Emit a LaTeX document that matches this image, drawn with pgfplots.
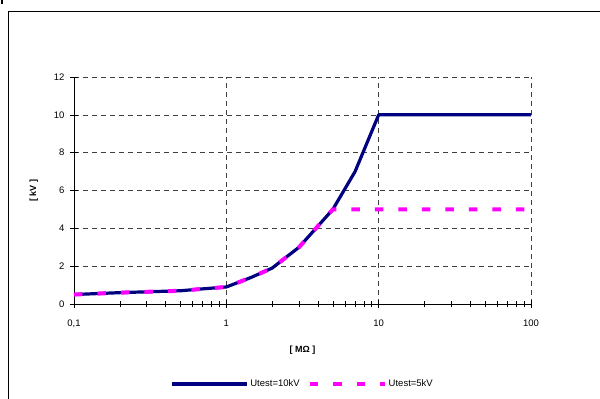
\documentclass[border=0pt]{standalone}
\usepackage{pgfplots}
\pgfplotsset{compat=1.18}
\usepackage{fontspec}
\setmainfont{Liberation Sans}
\definecolor{navyc}{RGB}{0,0,128}
\definecolor{magc}{RGB}{255,0,255}
\begin{document}
\begin{tikzpicture}[x=1pt,y=1pt]
\useasboundingbox (0,0) rectangle (600,399);
\clip (0,0) rectangle (600,399);
\fill[black] (1,395) rectangle (3,399);
\draw[black, line width=1pt] (8.5,387) rectangle (605,-5);
\begin{axis}[
  at={(74pt,95pt)}, anchor=south west,
  scale only axis, width=457pt, height=227pt,
  xmode=log, log basis x=10,
  xmin=0.1, xmax=100, ymin=0, ymax=12,
  xtick={0.1,1,10,100}, xticklabels={{0,1},1,10,100},
  minor xtick={0.2,0.3,0.4,0.5,0.6,0.7,0.8,0.9,2,3,4,5,6,7,8,9,20,30,40,50,60,70,80,90},
  ytick={0,2,4,6,8,10,12},
  axis x line*=bottom, axis y line*=left,
  axis line style={black, line width=0.6pt, -},
  tick align=center,
  major tick length=8pt, minor tick length=5pt,
  tick style={black, line width=0.6pt},
  grid=major,
  major grid style={black!75, dash pattern=on 5pt off 4pt, line width=0.6pt},
  minor grid style={draw=none},
  tick label style={font=\fontsize{9.5}{11}\selectfont},
  /pgf/number format/assume math mode=true,
  xticklabel style={yshift=-8pt},
  yticklabel style={xshift=-2pt},
  xlabel={\textbf{[ MΩ ]}}, ylabel={\textbf{[ kV ]}},
  label style={font=\fontsize{9}{10}\selectfont},
  xlabel style={at={(axis description cs:0.5,0)}, anchor=center, yshift=-46pt},
  ylabel style={at={(axis description cs:-0.088,0.5)}, anchor=center},
  legend style={at={(0.5,0)}, anchor=center, yshift=-80pt, draw=none, fill=none,
    legend columns=2, font=\fontsize{9.5}{11}\selectfont,
    /tikz/every even column/.append style={column sep=6pt}},
  legend image code/.code={\draw[#1] (0pt,0pt) -- (75pt,0pt);},
  clip=false,
]
\addplot[navyc, line width=3.2pt, line join=round] coordinates {
(0.1,0.5) (0.2,0.6) (0.5,0.7) (0.7,0.8) (1,0.9) (1.45,1.4) (2,1.9) (3,3) (5,5) (7,7) (10,10) (100,10)};
\addlegendentry{Utest=10kV}
\addplot[magc, line width=4pt, dash pattern=on 8.5pt off 15pt] coordinates {
(0.1,0.5) (0.2,0.6) (0.5,0.7) (0.7,0.8) (1,0.9) (1.45,1.4) (2,1.9) (3,3) (5,5) (100,5)};
\addlegendentry{Utest=5kV}
\end{axis}
\end{tikzpicture}
\end{document}
